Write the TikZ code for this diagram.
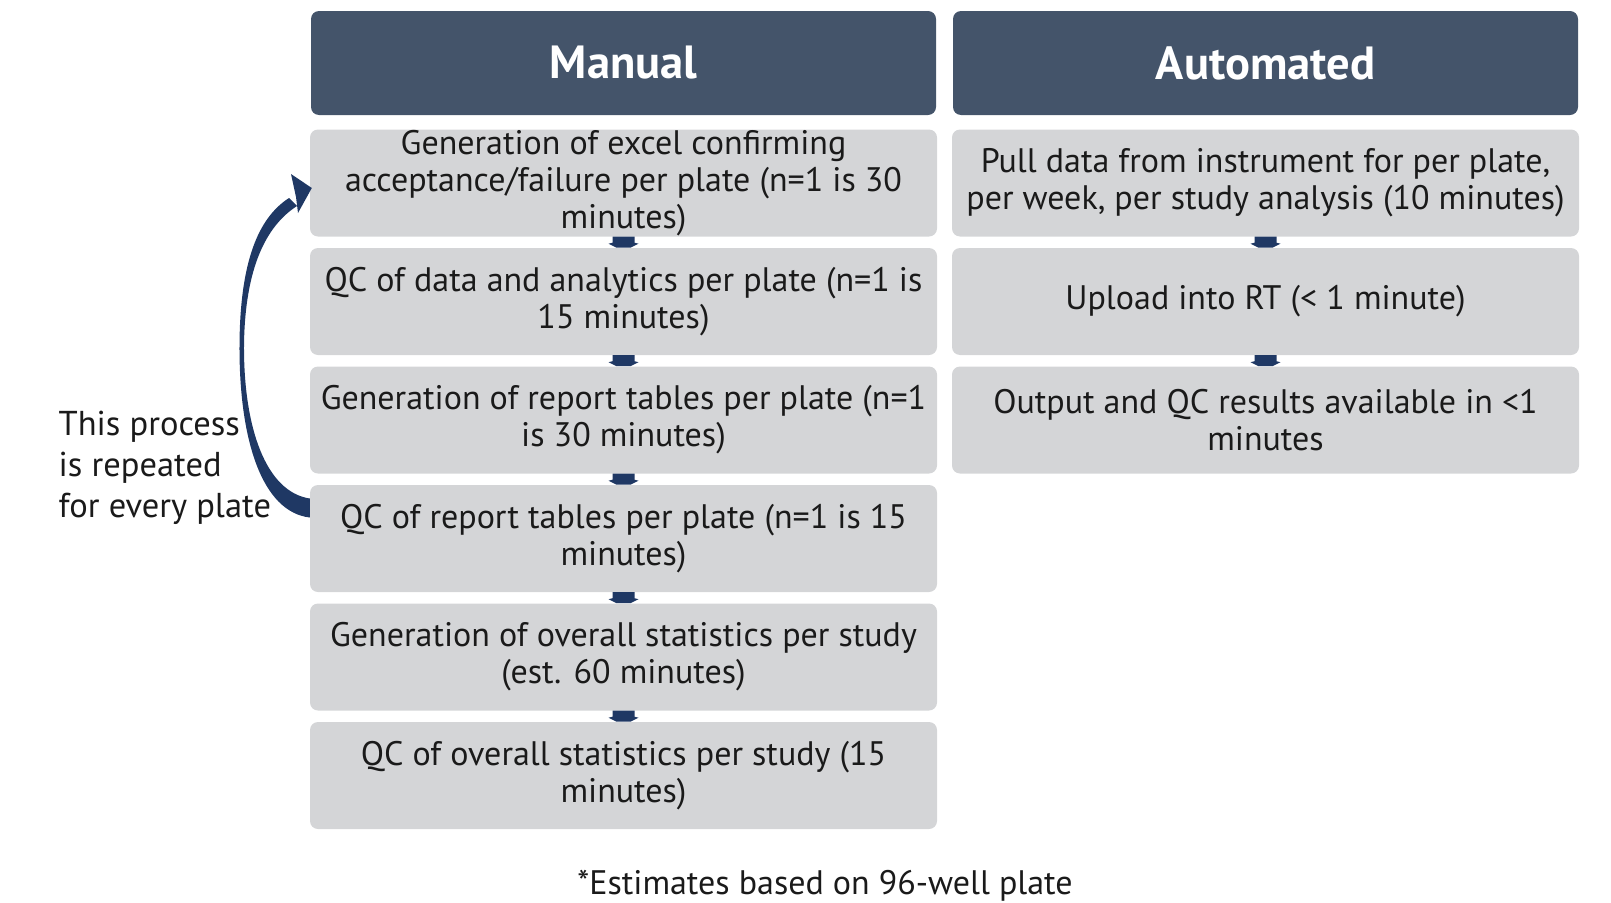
\documentclass[tikz,border=0pt]{standalone}
\usepackage{fontspec}
\setmainfont{PT Sans}
\usetikzlibrary{calc}
\definecolor{hdr}{HTML}{44546A}
\definecolor{boxgray}{HTML}{D4D5D7}
\definecolor{navy}{HTML}{1F3864}
\definecolor{txt}{HTML}{1A1A1A}
\newcommand\smallarrow[1]{\fill[conn, shift={(#1.south)}] (-11,0) -- (11,0) -- (11,6) -- (15,7) -- (7,11) -- (-7,11) -- (-15,7) -- (-11,6) -- cycle;}
\begin{document}
\begin{tikzpicture}[x=1pt,y=-1pt,
  hdrbox/.style={fill=hdr, rounded corners=8pt, minimum width=625pt, minimum height=104pt, inner sep=0pt, text=white, font=\fontsize{46.5}{52}\selectfont\bfseries},
  stepbox/.style={fill=boxgray, rounded corners=8pt, minimum width=627pt, minimum height=107pt, inner sep=0pt, align=center, text=txt, font=\fontsize{34}{37}\selectfont},
  conn/.style={fill=navy},
  note/.style={text=txt, font=\fontsize{34.5}{41}\selectfont, inner sep=0pt}]
\useasboundingbox (0,0) rectangle (1611,902);
\node[hdrbox] (hm) at (623.5,63) {Manual};
\node[hdrbox] (ha) at (1265.5,63) {Automated};
\node[stepbox] (m1) at (623.5,183) {Generation of excel confirming\\acceptance/failure per plate (n=1 is 30\\minutes)};
\node[stepbox] (m2) at (623.5,301.5) {QC of data and analytics per plate (n=1 is\\15 minutes)};
\node[stepbox] (m3) at (623.5,420) {Generation of report tables per plate (n=1\\is 30 minutes)};
\node[stepbox] (m4) at (623.5,538.5) {QC of report tables per plate (n=1 is 15\\minutes)};
\node[stepbox] (m5) at (623.5,657) {Generation of overall statistics per study\\(est. 60 minutes)};
\node[stepbox] (m6) at (623.5,775.5) {QC of overall statistics per study (15\\minutes)};
\node[stepbox] (a1) at (1265.5,183) {Pull data from instrument for per plate,\\per week, per study analysis (10 minutes)};
\node[stepbox] (a2) at (1265.5,301.5) {Upload into RT (< 1 minute)};
\node[stepbox] (a3) at (1265.5,420) {Output and QC results available in <1\\minutes};
\smallarrow{m1}
\smallarrow{m2}
\smallarrow{m3}
\smallarrow{m4}
\smallarrow{m5}
\smallarrow{a1}
\smallarrow{a2}
\node[note, anchor=west, align=left] (lbl) at (58.5,467.5) {This process\\is repeated\\for every plate};
\node[note, font=\fontsize{34}{41}\selectfont] (foot) at (825,886) {*Estimates based on 96-well plate};
\coordinate (tailA) at ($(m4.west)+(0,-40)$);
\coordinate (tailB) at ($(m4.west)+(0,-21)$);
\coordinate (tip) at ($(m1.west)+(2,5)$);
\fill[navy] (tailB) .. controls (262,512) and (239,440) .. (239.5,345) .. controls (240,262) and (258,218) .. (289,198) -- (297,206) .. controls (266,226) and (245,268) .. (244,345) .. controls (243.5,428) and (266,492) .. (tailA) -- cycle;
\fill[navy] (tip) -- (291,174) -- (296,197) -- (298,213) -- cycle;
\end{tikzpicture}
\end{document}
